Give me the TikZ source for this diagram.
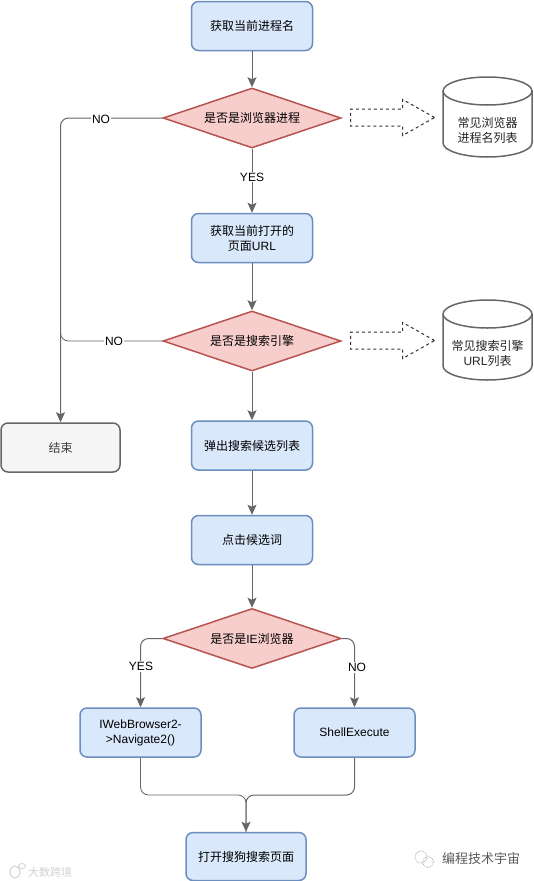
\documentclass[tikz,border=0pt]{standalone}
\usepackage{fontspec}
\setmainfont{Liberation Sans}
\newfontfamily\cjk{Noto Sans CJK SC}
\newcommand{\zh}[1]{{\cjk #1}}
\usetikzlibrary{shapes.geometric,shapes.arrows,arrows.meta}
\definecolor{bfill}{HTML}{DAE8FC}
\definecolor{bline}{HTML}{6C8EBF}
\definecolor{rfill}{HTML}{F8CECC}
\definecolor{rline}{HTML}{B85450}
\definecolor{gfill}{HTML}{F5F5F5}
\definecolor{gline}{HTML}{666666}
\tikzset{
  x=1pt,y=-1pt,
  every node/.style={font=\fontsize{12}{15}\selectfont,text=black,align=center,inner sep=0pt},
  blue box/.style={draw=bline,fill=bfill,line width=1.5pt,rounded corners=7pt,minimum width=121pt,minimum height=49pt},
  grey box/.style={draw=gline,fill=gfill,line width=1.5pt,rounded corners=7pt,minimum width=119pt,minimum height=49pt,text=gline!60!black},
  decision/.style={diamond,draw=rline,fill=rfill,line width=1.5pt,shape aspect=3,minimum width=178pt,minimum height=60pt},
  flow/.style={draw=gline,line width=1pt,-{Stealth[length=10pt,width=9pt,inset=2pt]},rounded corners=8pt},
  plain flow/.style={draw=gline,line width=.8pt,rounded corners=8pt},
  edge text/.style={fill=white,inner xsep=1pt,inner ysep=1pt},
  hollow arrow/.style={single arrow,draw=black!80,dashed,line width=1pt,fill=white,minimum height=84pt,minimum width=35pt,inner sep=8pt,single arrow head extend=9.5pt,single arrow tip angle=59,single arrow head indent=0pt},
  store/.style={draw=gline,fill=white,line width=1.5pt},
  store text/.style={fill=none,text=black!85},
}
\newcommand{\drum}[1]{%
  \path[store] (443,#1+14) arc[x radius=44.5,y radius=14,start angle=180,end angle=360]
    -- (532,#1+66) arc[x radius=44.5,y radius=14,start angle=0,end angle=180] -- cycle;
  \draw[store,fill=none] (443,#1+14) arc[x radius=44.5,y radius=14,start angle=180,end angle=0];
}
\begin{document}
\begin{tikzpicture}
\useasboundingbox (0,0) rectangle (533,881);
% nodes
\node[blue box] (get) at (252,26) {\zh{获取当前进程名}};
\node[decision] (isb) at (252,118) {\zh{是否是浏览器进程}};
\node[blue box] (url) at (252,238) {\zh{获取当前打开的}\\\zh{页面}URL};
\node[decision] (iss) at (252,341) {\zh{是否是搜索引擎}};
\node[grey box] (end) at (60.5,447.5) {\zh{结束}};
\node[blue box] (pop) at (252,445.5) {\zh{弹出搜索候选列表}};
\node[blue box] (clk) at (252,540) {\zh{点击候选词}};
\node[decision] (isie) at (252,638.5) {\zh{是否是}IE\zh{浏览器}};
\node[blue box] (nav) at (140.5,732.5) {IWebBrowser2-\\>Navigate2()};
\node[blue box] (shl) at (354.5,732.5) {ShellExecute};
\node[blue box,minimum width=120pt,minimum height=48pt] (opn) at (246,856.5) {\zh{打开搜狗搜索页面}};
% stores
\drum{77}
\node[store text] (lista) at (487.5,130) {\zh{常见浏览器}\\\zh{进程名列表}};
\drum{300}
\node[store text] (listb) at (487.5,353) {\zh{常见搜索引擎}\\URL\zh{列表}};
% hollow arrows
\node[hollow arrow] (ha) at (385,117.5) {};
\node[hollow arrow] (hb) at (385,340.5) {};
% connectors
\draw[flow] (get) -- (isb);
\draw[flow] (isb) -- (url);
\draw[flow] (url) -- (iss);
\draw[flow] (iss) -- (pop);
\draw[flow] (pop) -- (clk);
\draw[flow] (clk) -- (isie);
\draw[flow] (isb.west) -| (end.north);
\draw[plain flow] (iss.west) -| ([yshift=14pt]end.north |- iss.west);
\draw[flow] (isie.west) -| (nav.north);
\draw[flow] (isie.east) -| (shl.north);
\coordinate (join) at (opn.north |- 0,795);
\draw[plain flow] (nav.south) |- (join) -- (opn.north);
\draw[flow] (shl.south) |- (join) -- (opn.north);
% labels
\node[edge text] (no1) at (101,119.5) {NO};
\node[edge text] (yes1) at (252,177) {YES};
\node[edge text] (no2) at (114,341.5) {NO};
\node[edge text] (yes2) at (141,666.5) {YES};
\node[edge text] (no3) at (357,667.5) {NO};
% watermarks
\node[text=black!65,font=\fontsize{13}{15}\selectfont\cjk] (wm) at (481,859) {编程技术宇宙};
\node[text=black!18,font=\fontsize{11}{12}\selectfont\cjk] (wl) at (50,872) {大数跨境};
\draw[black!40,densely dotted,line width=.7pt] (421,857) circle[radius=6];
\draw[black!40,densely dotted,line width=.7pt] (428,862) circle[radius=5.5];
\draw[black!18,line width=1pt] (15,872) circle[x radius=5,y radius=6];
\draw[black!18,line width=.8pt] (22,866) circle[x radius=3.5,y radius=2.5];
\end{tikzpicture}
\end{document}
